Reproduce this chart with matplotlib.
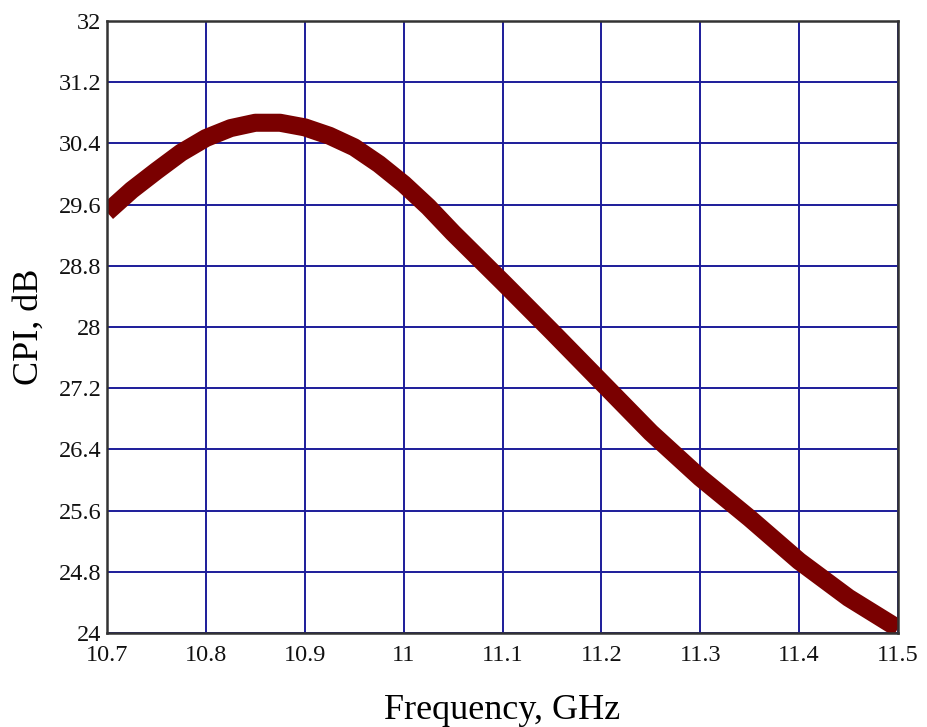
#!/usr/bin/env python3
"""Plot of CPI versus frequency, saved to out.png"""
import matplotlib
matplotlib.use("Agg")
import matplotlib.pyplot as plt

# values
freq_ghz = [10.7, 10.725, 10.75, 10.775, 10.8, 10.825, 10.85, 10.875,
            10.9, 10.925, 10.95, 10.975, 11.0, 11.025, 11.05, 11.1, 11.15,
            11.2, 11.25, 11.3, 11.35, 11.4, 11.45, 11.5]
cpi_db = [29.50, 29.79, 30.04, 30.28, 30.47, 30.60, 30.67, 30.67,
          30.61, 30.50, 30.35, 30.13, 29.87, 29.57, 29.23, 28.59, 27.94,
          27.28, 26.62, 26.03, 25.50, 24.94, 24.46, 24.06]
x_ticks = [10.7, 10.8, 10.9, 11.0, 11.1, 11.2, 11.3, 11.4, 11.5]
x_tick_labels = ["10.7", "10.8", "10.9", "11", "11.1", "11.2", "11.3",
                 "11.4", "11.5"]
y_ticks = [24, 24.8, 25.6, 26.4, 27.2, 28, 28.8, 29.6, 30.4, 31.2, 32]
y_tick_labels = ["24", "24.8", "25.6", "26.4", "27.2", "28", "28.8",
                 "29.6", "30.4", "31.2", "32"]


def main():
    """Draws the chart"""
    plt.rcParams['font.family'] = ['Liberation Serif', 'DejaVu Serif']
    fig = plt.figure(figsize=(9.28, 7.27), dpi=100)
    axis = fig.add_axes([0.1153, 0.1293, 0.8524, 0.8418])

    axis.plot(freq_ghz, cpi_db, color='#7a0000', linewidth=13,
              solid_capstyle='butt', solid_joinstyle='round', zorder=3)

    axis.set_xlim(10.7, 11.5)
    axis.set_ylim(24, 32)
    axis.set_xticks(x_ticks)
    axis.set_xticklabels(x_tick_labels)
    axis.set_yticks(y_ticks)
    axis.set_yticklabels(y_tick_labels)
    axis.tick_params(axis='both', length=0, labelsize=17.5,
                     labelcolor='#111111')
    axis.tick_params(axis='x', pad=9)
    axis.tick_params(axis='y', pad=4)
    axis.grid(True, color='#1c1c9a', linewidth=1.4, zorder=1)
    axis.set_axisbelow(True)
    for spine in axis.spines.values():
        spine.set_color('#333333')
        spine.set_linewidth(1.8)
        spine.set_zorder(4)

    axis.set_xlabel("Frequency, GHz", fontsize=26, labelpad=20)
    axis.set_ylabel("CPI, dB", fontsize=26, labelpad=9)

    fig.savefig("out.png", dpi=100)
    plt.close()


if __name__ == "__main__":
    main()
